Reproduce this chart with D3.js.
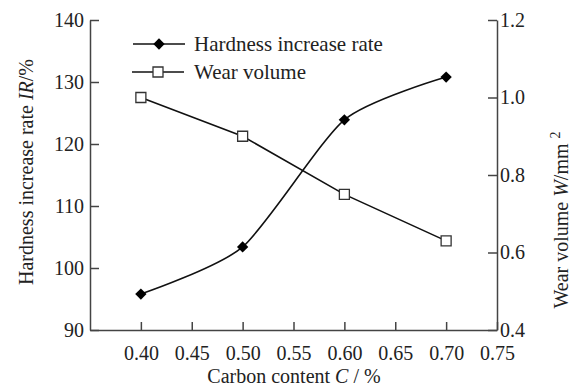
<!DOCTYPE html>
<html>
<head>
<meta charset="utf-8">
<script src="https://cdn.jsdelivr.net/npm/d3@7"></script>
<style>
  body { margin: 0; background: #fff; }
  text { font-family: "Liberation Serif", "Times New Roman", serif; fill: #222; }
</style>
</head>
<body>
<svg width="573" height="390"></svg>
<script>
const carbon = [0.40, 0.50, 0.60, 0.70];
const hardness = [95.8, 103.4, 123.9, 130.8];
const wear = [1.00, 0.90, 0.75, 0.63];
const xTicks = [0.40, 0.45, 0.50, 0.55, 0.60, 0.65, 0.70, 0.75];
const leftTicks = [90, 100, 110, 120, 130, 140];
const rightTicks = [0.4, 0.6, 0.8, 1.0, 1.2];

const svg = d3.select("svg");
const plotLeft = 90, plotRight = 497, plotTop = 20, plotBottom = 330;

const x = d3.scaleLinear().domain([0.35, 0.75]).range([plotLeft, plotRight]);
const yL = d3.scaleLinear().domain([90, 140]).range([plotBottom, plotTop]);
const yR = d3.scaleLinear().domain([0.4, 1.2]).range([plotBottom, plotTop]);

function styleAxis(g) {
    g.select(".domain").attr("stroke", "#444").attr("stroke-width", 1.5);
    g.selectAll(".tick line").attr("stroke", "#444").attr("stroke-width", 1.5);
    g.selectAll(".tick text").attr("font-size", 20).attr("fill", "#222")
        .attr("font-family", "Liberation Serif, serif");
}

svg.append("g")
    .attr("transform", "translate(0," + plotBottom + ")")
    .call(d3.axisBottom(x).tickValues(xTicks).tickFormat(d3.format(".2f"))
        .tickSizeInner(-8).tickSizeOuter(0).tickPadding(16))
    .call(styleAxis);

svg.append("g")
    .attr("transform", "translate(" + plotLeft + ",0)")
    .call(d3.axisLeft(yL).tickValues(leftTicks)
        .tickSizeInner(-9).tickSizeOuter(0).tickPadding(6))
    .call(styleAxis);

svg.append("g")
    .attr("transform", "translate(" + plotRight + ",0)")
    .call(d3.axisRight(yR).tickValues(rightTicks).tickFormat(d3.format(".1f"))
        .tickSizeInner(-9).tickSizeOuter(0).tickPadding(3))
    .call(styleAxis);

// lines
const hardLine = d3.line()
    .x((d, i) => x(carbon[i]))
    .y(d => yL(d))
    .curve(d3.curveCardinal.tension(0.3));
const wearLine = d3.line()
    .x((d, i) => x(carbon[i]))
    .y(d => yR(d));

svg.append("path").datum(hardness)
    .attr("d", hardLine).attr("fill", "none")
    .attr("stroke", "#111").attr("stroke-width", 1.6);
svg.append("path").datum(wear)
    .attr("d", wearLine).attr("fill", "none")
    .attr("stroke", "#111").attr("stroke-width", 1.6);

const diamond = d3.symbol().type(d3.symbolSquare).size(64);
const square = d3.symbol().type(d3.symbolSquare).size(100);

svg.selectAll(".hm").data(hardness).enter().append("path")
    .attr("class", "hm")
    .attr("d", diamond)
    .attr("transform", (d, i) => "translate(" + x(carbon[i]) + "," + yL(d) + ") rotate(45)")
    .attr("fill", "#000");

svg.selectAll(".wm").data(wear).enter().append("path")
    .attr("class", "wm")
    .attr("d", square)
    .attr("transform", (d, i) => "translate(" + x(carbon[i]) + "," + yR(d) + ")")
    .attr("fill", "#fff").attr("stroke", "#333").attr("stroke-width", 1.3);

// legend
const lg = svg.append("g");
lg.append("line").attr("x1", 133).attr("x2", 185).attr("y1", 44).attr("y2", 44)
    .attr("stroke", "#111").attr("stroke-width", 1.6);
lg.append("path").attr("d", diamond)
    .attr("transform", "translate(159,44) rotate(45)").attr("fill", "#000");
lg.append("text").attr("x", 194).attr("y", 51).attr("font-size", 21)
    .text("Hardness increase rate");
lg.append("line").attr("x1", 132).attr("x2", 184).attr("y1", 72).attr("y2", 72)
    .attr("stroke", "#111").attr("stroke-width", 1.6);
lg.append("path").attr("d", square)
    .attr("transform", "translate(158,72)")
    .attr("fill", "#fff").attr("stroke", "#333").attr("stroke-width", 1.3);
lg.append("text").attr("x", 194).attr("y", 79).attr("font-size", 21)
    .text("Wear volume");

// axis titles
const xl = svg.append("text").attr("x", 294).attr("y", 383)
    .attr("text-anchor", "middle").attr("font-size", 20);
xl.append("tspan").text("Carbon content ");
xl.append("tspan").attr("font-style", "italic").text("C");
xl.append("tspan").text(" / %");

const yl = svg.append("text")
    .attr("transform", "translate(33,172) rotate(-90)")
    .attr("text-anchor", "middle").attr("font-size", 20);
yl.append("tspan").text("Hardness increase rate ");
yl.append("tspan").attr("font-style", "italic").text("IR");
yl.append("tspan").text("/%");

const yr = svg.append("text")
    .attr("transform", "translate(568,220) rotate(-90)")
    .attr("text-anchor", "middle").attr("font-size", 20);
yr.append("tspan").text("Wear volume ");
yr.append("tspan").attr("font-style", "italic").text("W");
yr.append("tspan").text("/mm ");
yr.append("tspan").attr("font-size", 14).attr("dy", -8).text("2");
</script>
</body>
</html>
